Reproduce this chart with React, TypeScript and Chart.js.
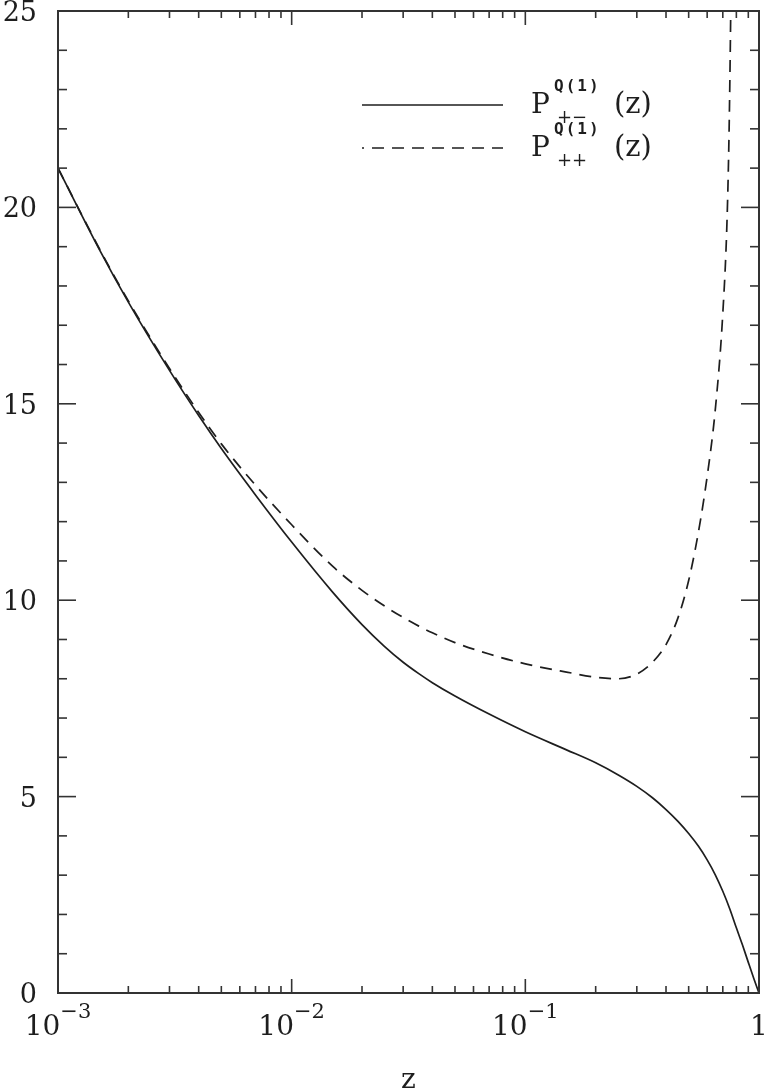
import React, { useEffect, useRef } from "react";
import { Chart, registerables } from "chart.js";

Chart.register(...registerables);

// ---- data ----
const zSolid = [0.001, 0.0015, 0.002, 0.003, 0.004, 0.005, 0.007, 0.01, 0.015, 0.02, 0.025, 0.03, 0.035, 0.04, 0.05, 0.07, 0.1, 0.15, 0.2, 0.25, 0.3, 0.35, 0.4, 0.45, 0.5, 0.55, 0.6, 0.65, 0.7, 0.75, 0.8, 0.85, 0.9, 0.95, 1.0];
const pPlusMinus = [21.0, 18.94, 17.59, 15.85, 14.7, 13.86, 12.68, 11.48, 10.2, 9.38, 8.82, 8.42, 8.13, 7.9, 7.56, 7.1, 6.65, 6.19, 5.86, 5.55, 5.26, 4.97, 4.67, 4.37, 4.06, 3.74, 3.39, 3.01, 2.59, 2.14, 1.66, 1.22, 0.78, 0.37, 0.0];

const zDashed = [0.001, 0.0015, 0.002, 0.003, 0.004, 0.005, 0.007, 0.01, 0.015, 0.02, 0.025, 0.03, 0.035, 0.04, 0.05, 0.07, 0.1, 0.15, 0.2, 0.25, 0.3, 0.35, 0.4, 0.45, 0.5, 0.55, 0.6, 0.65, 0.7, 0.73, 0.745, 0.757, 0.765];
const pPlusPlus = [21.0, 18.96, 17.62, 15.9, 14.78, 13.98, 12.93, 11.92, 10.86, 10.25, 9.85, 9.56, 9.34, 9.17, 8.92, 8.63, 8.38, 8.17, 8.04, 8.0, 8.12, 8.42, 8.87, 9.55, 10.5, 11.72, 13.15, 14.85, 17.3, 19.7, 22.0, 25.0, 27.6];

const yTickValues = [0, 5, 10, 15, 20, 25];
const yTickLabels = ["0", "5", "10", "15", "20", "25"];
const xTickValues = [0.001, 0.01, 0.1, 1];
const xTickBases = ["10", "10", "10", "1"];
const xTickExps = ["\u22123", "\u22122", "\u22121", ""];
const xTitle = "z";

const legendMain = ["P", "P"];
const legendSup = ["Q(1)", "Q(1)"];
const legendSub = ["+\u2212", "++"];
const legendArg = ["(z)", "(z)"];

const SERIF = '"DejaVu Serif", serif';
const INK = "#1e1e1e";
const FRAME = "#333333";

const decorPlugin = {
  id: "decor",
  afterDatasetsDraw(chart: any) {
    const { ctx, chartArea: a, scales } = chart;
    const xs = scales.x;
    const ys = scales.y;
    ctx.save();
    ctx.strokeStyle = FRAME;
    ctx.lineCap = "butt";
    const seg = (x1: number, y1: number, x2: number, y2: number) => {
      ctx.beginPath();
      ctx.moveTo(x1, y1);
      ctx.lineTo(x2, y2);
      ctx.stroke();
    };
    // y ticks (inside, both sides)
    ctx.lineWidth = 1.6;
    for (let v = ys.min; v <= ys.max; v += 1) {
      const py = ys.getPixelForValue(v);
      const len = yTickValues.includes(v) ? 18 : 9;
      seg(a.left, py, a.left + len, py);
      seg(a.right, py, a.right - len, py);
    }
    // x ticks (log decades)
    for (let d = 0; d < xTickValues.length; d++) {
      const base = xTickValues[d];
      for (let m = 1; m <= 9; m++) {
        const v = base * m;
        if (v > xs.max * 1.0001) break;
        const px = xs.getPixelForValue(v);
        const len = m === 1 ? 14 : 7;
        seg(px, a.bottom, px, a.bottom - len);
        seg(px, a.top, px, a.top + len);
      }
    }
    // frame
    ctx.lineWidth = 2;
    ctx.strokeRect(a.left, a.top, a.right - a.left, a.bottom - a.top);

    // y tick labels
    ctx.fillStyle = INK;
    ctx.font = `27px ${SERIF}`;
    ctx.textAlign = "right";
    ctx.textBaseline = "alphabetic";
    yTickValues.forEach((v, i) => {
      const py = ys.getPixelForValue(v);
      ctx.fillText(yTickLabels[i], 37, py + 10);
    });

    // x tick labels with superscript exponent
    ctx.textAlign = "left";
    xTickValues.forEach((v, i) => {
      const px = xs.getPixelForValue(v);
      ctx.font = `28px ${SERIF}`;
      const wb = ctx.measureText(xTickBases[i]).width;
      ctx.font = `21px ${SERIF}`;
      const we = xTickExps[i] ? ctx.measureText(xTickExps[i]).width : 0;
      const x0 = px - (wb + we) / 2;
      ctx.font = `28px ${SERIF}`;
      ctx.fillText(xTickBases[i], x0, a.bottom + 42);
      if (xTickExps[i]) {
        ctx.font = `21px ${SERIF}`;
        ctx.fillText(xTickExps[i], x0 + wb, a.bottom + 25);
      }
    });

    // x title
    ctx.font = `28px ${SERIF}`;
    ctx.textAlign = "center";
    ctx.fillText(xTitle, (a.left + a.right) / 2, a.bottom + 95);

    // legend
    const rowsY = [105, 148];
    chart.data.datasets.forEach((ds: any, i: number) => {
      const y = rowsY[i];
      ctx.strokeStyle = INK;
      ctx.lineWidth = ds.borderWidth;
      ctx.setLineDash(ds.borderDash || []);
      ctx.lineDashOffset = ds.borderDash && ds.borderDash.length ? 10 : 0;
      seg(362, y, 503, y);
      ctx.setLineDash([]);
      ctx.lineDashOffset = 0;
      const base = y + 8;
      ctx.textAlign = "left";
      ctx.fillStyle = INK;
      ctx.font = `28px ${SERIF}`;
      ctx.fillText(legendMain[i], 531, base);
      ctx.font = `bold 16px "DejaVu Sans Mono", monospace`;
      try { (ctx as any).letterSpacing = "2px"; } catch (e) {}
      ctx.fillText(legendSup[i], 554, base - 22);
      try { (ctx as any).letterSpacing = "0px"; } catch (e) {}
      ctx.font = `18px ${SERIF}`;
      ctx.fillText(legendSub[i], 557, base + 10);
      ctx.font = `29px ${SERIF}`;
      ctx.fillText(legendArg[i], 614, base);
    });
    ctx.restore();
  },
};

export default function App() {
  const ref = useRef<HTMLCanvasElement | null>(null);
  useEffect(() => {
    if (!ref.current) return;
    const chart = new Chart(ref.current, {
      type: "line",
      data: {
        datasets: [
          {
            label: "P+-",
            data: zSolid.map((z, i) => ({ x: z, y: pPlusMinus[i] })),
            borderColor: INK,
            borderWidth: 1.7,
            pointRadius: 0,
            fill: false,
            cubicInterpolationMode: "monotone",
          },
          {
            label: "P++",
            data: zDashed.map((z, i) => ({ x: z, y: pPlusPlus[i] })),
            borderColor: INK,
            borderWidth: 1.7,
            borderDash: [12, 8],
            pointRadius: 0,
            fill: false,
            cubicInterpolationMode: "monotone",
          },
        ],
      },
      options: {
        animation: false,
        responsive: false,
        devicePixelRatio: 1,
        layout: { padding: { left: 58, right: 5, top: 11, bottom: 96 } },
        plugins: { legend: { display: false }, tooltip: { enabled: false } },
        scales: {
          x: { type: "logarithmic", min: 0.001, max: 1, display: false },
          y: { type: "linear", min: 0, max: 25, display: false },
        },
      },
      plugins: [decorPlugin],
    } as any);
    return () => chart.destroy();
  }, []);
  return (
    <div style={{ position: "absolute", left: 0, top: 0, width: 764, height: 1089, background: "#fff" }}>
      <canvas ref={ref} width={764} height={1089} style={{ width: 764, height: 1089, display: "block" }} />
    </div>
  );
}
